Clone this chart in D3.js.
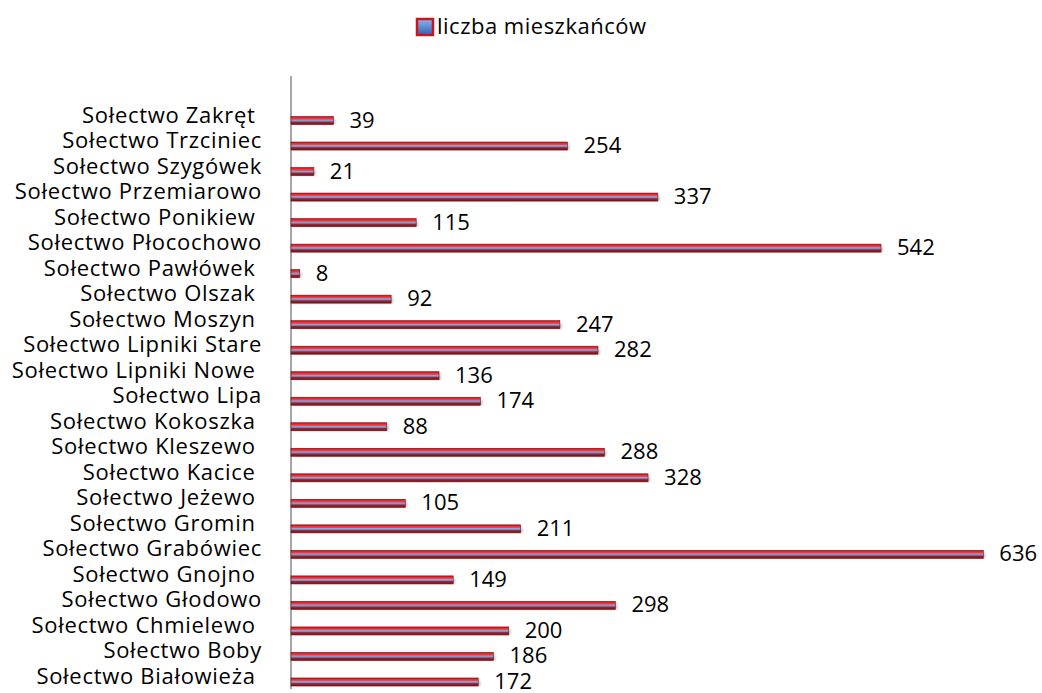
<!DOCTYPE html>
<html>
<head>
<meta charset="utf-8">
<script src="https://cdn.jsdelivr.net/npm/d3@7"></script>
<style>
  body { margin: 0; background: #fff; }
  text { font-family: 'Open Sans', sans-serif; white-space: pre; }
</style>
</head>
<body>
<div class="chart"></div>
<script>
const categories = [
  'Sołectwo Zakręt ', 'Sołectwo Trzciniec', 'Sołectwo Szygówek', 'Sołectwo Przemiarowo',
  'Sołectwo Ponikiew ', 'Sołectwo Płocochowo', 'Sołectwo Pawłówek ', 'Sołectwo Olszak ',
  'Sołectwo Moszyn ', 'Sołectwo Lipniki Stare', 'Sołectwo Lipniki Nowe ', 'Sołectwo Lipa',
  'Sołectwo Kokoszka ', 'Sołectwo Kleszewo ', 'Sołectwo Kacice ', 'Sołectwo Jeżewo ',
  'Sołectwo Gromin ', 'Sołectwo Grabówiec', 'Sołectwo Gnojno ', 'Sołectwo Głodowo',
  'Sołectwo Chmielewo ', 'Sołectwo Boby', 'Sołectwo Białowieża '
];
const values = [39, 254, 21, 337, 115, 542, 8, 92, 247, 282, 136, 174, 88, 288, 328, 105, 211, 636, 149, 298, 200, 186, 172];
const seriesName = 'liczba mieszkańców';

const width = 1042, height = 693;
const svg = d3.select('.chart').append('svg')
  .attr('width', width)
  .attr('height', height);

const defs = svg.append('defs');
const grad = defs.append('linearGradient')
  .attr('id', 'barGrad')
  .attr('x1', 0).attr('y1', 0).attr('x2', 0).attr('y2', 1);
[['0%', '#c41018'], ['18%', '#f2262c'], ['35%', '#e05060'], ['45%', '#8aa6dc'],
 ['58%', '#7c8cc4'], ['70%', '#9a2a3a'], ['100%', '#6e1010']].forEach(s => {
  grad.append('stop').attr('offset', s[0]).attr('stop-color', s[1]);
});
const lgGrad = defs.append('linearGradient')
  .attr('id', 'legGrad')
  .attr('x1', 0).attr('y1', 0).attr('x2', 0).attr('y2', 1);
lgGrad.append('stop').attr('offset', '0%').attr('stop-color', '#8fb4ec');
lgGrad.append('stop').attr('offset', '100%').attr('stop-color', '#2f62b4');
const shadow = defs.append('filter').attr('id', 'shadow')
  .attr('x', '-5%').attr('y', '-50%').attr('width', '110%').attr('height', '250%');
shadow.append('feGaussianBlur').attr('stdDeviation', 1.2);

const x = d3.scaleLinear().domain([0, 700]).range([291, 1053]);
const y = d3.scaleBand().domain(categories).range([100.5, 687.5]).padding(0);

// legend
const leg = svg.append('g').attr('transform', 'translate(417,19)');
leg.append('rect')
  .attr('width', 16).attr('height', 16)
  .attr('fill', 'url(#legGrad)')
  .attr('stroke', '#c8141c').attr('stroke-width', 2.5);
leg.append('text')
  .attr('x', 20).attr('y', 15)
  .style('font-size', '22px')
  .style('letter-spacing', '0.5px')
  .attr('fill', '#000')
  .text(seriesName);

// axis line
svg.append('line')
  .attr('x1', 291).attr('x2', 291)
  .attr('y1', 76).attr('y2', 689)
  .attr('stroke', '#888').attr('stroke-width', 1.5);

const rows = svg.selectAll('.row')
  .data(categories.map((c, i) => ({cat: c, value: values[i]})))
  .enter()
  .append('g')
  .attr('class', 'row');

rows.append('rect')
  .attr('x', x(0) + 2)
  .attr('y', d => y(d.cat) + 19)
  .attr('width', d => x(d.value) - x(0))
  .attr('height', 5)
  .attr('fill', '#999')
  .attr('opacity', 0.6)
  .attr('filter', 'url(#shadow)');

rows.append('rect')
  .attr('x', x(0))
  .attr('y', d => y(d.cat) + 16)
  .attr('width', d => x(d.value) - x(0))
  .attr('height', 8)
  .attr('fill', 'url(#barGrad)')
  .attr('stroke', '#7a1010')
  .attr('stroke-width', 0.6);

rows.append('text')
  .attr('x', 262)
  .attr('y', d => y(d.cat) + 22)
  .attr('text-anchor', 'end')
  .style('font-size', '22px')
  .style('letter-spacing', '0.7px')
  .attr('fill', '#000')
  .text(d => d.cat);

rows.append('text')
  .attr('x', d => x(d.value) + 16)
  .attr('y', d => y(d.cat) + 27)
  .style('font-size', '22px')
  .attr('fill', '#000')
  .text(d => d.value);
</script>
</body>
</html>
